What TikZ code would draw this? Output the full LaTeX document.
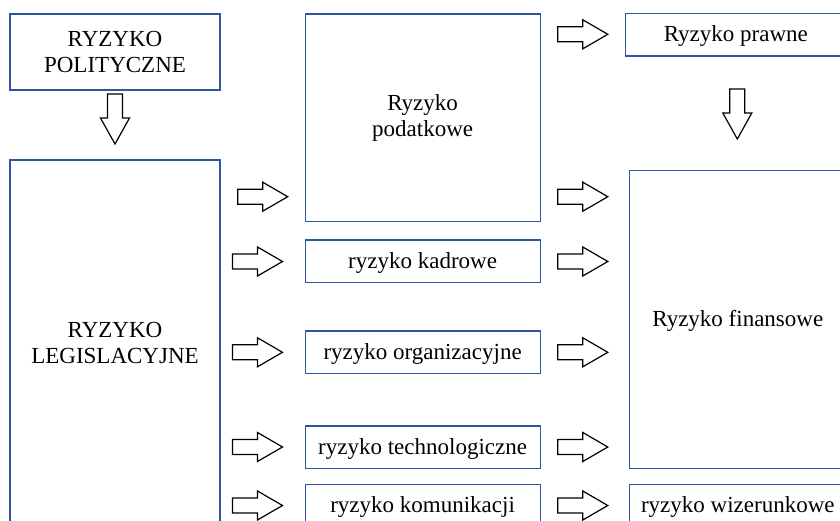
\documentclass[tikz,border=0pt]{standalone}
\usepackage{fontspec}
\setmainfont{Liberation Serif}
\definecolor{boxblue}{RGB}{47,85,165}
\tikzset{
  box/.style={draw=boxblue, line width=1.2pt, inner sep=0pt, align=center,
    font=\fontsize{23}{26}\selectfont},
  one/.style={text height=17pt, text depth=3pt},
  blk/.style={draw=black, line width=1.2pt, fill=white, line join=miter},
  rarr/.pic={\draw[blk] (0,-7.5) -- (25,-7.5) -- (25,-14.5) -- (50,0) -- (25,14.5) -- (25,7.5) -- (0,7.5) -- cycle;},
  darr/.pic={\draw[blk] (-7.5,0) -- (-7.5,24) -- (-14.5,24) -- (0,50) -- (14.5,24) -- (7.5,24) -- (7.5,0) -- cycle;},
}
\begin{document}
\begin{tikzpicture}[x=1pt,y=-1pt]
\useasboundingbox (0,0) rectangle (840,521);
\fill[white] (0,0) rectangle (840,521);
\clip (0,0) rectangle (840,521);
% boxes
\node[box, minimum width=210, minimum height=76] (pol) at (115,52) {RYZYKO\\POLITYCZNE};
\node[box, minimum width=210, minimum height=366] (leg) at (115,343) {RYZYKO\\LEGISLACYJNE};
\node[box, minimum width=235, minimum height=207.7] (pod) at (422.6,117.9) {Ryzyko\\podatkowe};
\node[box, one, minimum width=235, minimum height=42.7] (kad) at (422.6,261.3) {ryzyko kadrowe};
\node[box, one, minimum width=235, minimum height=42.3] (org) at (422.6,352.2) {ryzyko organizacyjne};
\node[box, one, minimum width=235, minimum height=42.3] (tech) at (422.6,447.2) {ryzyko technologiczne};
\node[box, one, minimum width=235, minimum height=42] (kom) at (422.6,505.2) {ryzyko komunikacji};
\node[box, one, minimum width=221, minimum height=42.7] (praw) at (735.8,34.7) {Ryzyko prawne};
\node[box, one, minimum width=217, minimum height=297.6] (fin) at (737.8,319.5) {Ryzyko finansowe};
\node[box, one, minimum width=217, minimum height=42] (wiz) at (737.8,505.2) {ryzyko wizerunkowe};
% down arrows
\pic at (115,94) {darr};
\pic at (737.3,89) {darr};
% left column arrows
\pic at (237.7,196.7) {rarr};
\pic at (232.5,261.5) {rarr};
\pic at (232.5,352.3) {rarr};
\pic at (232.5,447) {rarr};
\pic at (232.5,505.5) {rarr};
% right column arrows
\pic at (557.8,34.3) {rarr};
\pic at (557.8,196.7) {rarr};
\pic at (557.8,261.5) {rarr};
\pic at (557.8,352.3) {rarr};
\pic at (557.8,447) {rarr};
\pic at (557.8,505.5) {rarr};
\end{tikzpicture}
\end{document}
